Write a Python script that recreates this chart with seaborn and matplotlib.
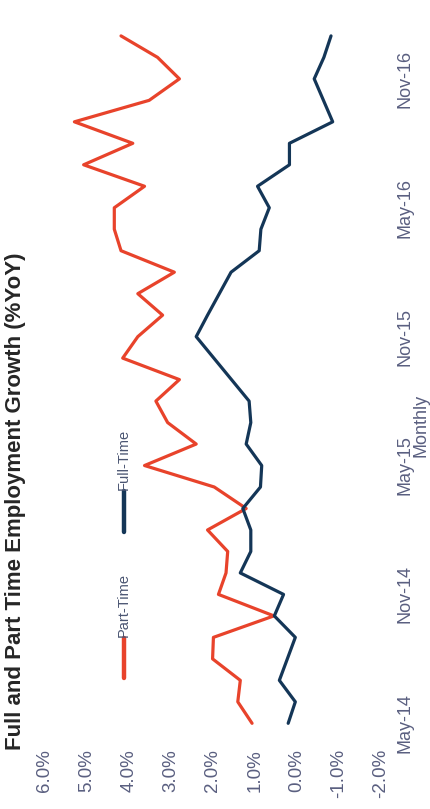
import matplotlib
matplotlib.use("Agg")
import matplotlib.pyplot as plt
from matplotlib.lines import Line2D
import seaborn as sns
import pandas as pd
import numpy as np

# ---- data (monthly, May-14 .. Jan-17) ----
months = pd.date_range("2014-05-01", periods=33, freq="MS").strftime("%b-%y").tolist()
part_time = [1.07, 1.41, 1.35, 2.01, 1.99, 0.55, 1.87, 1.69, 1.65, 2.13, 1.21, 1.97,
             3.63, 2.40, 3.08, 3.36, 2.80, 4.15, 3.79, 3.20, 3.79, 2.92, 4.19, 4.35,
             4.35, 3.63, 5.08, 3.91, 5.30, 3.52, 2.80, 3.32, 4.19]
full_time = [0.21, 0.04, 0.42, 0.23, 0.04, 0.54, 0.32, 1.35, 1.10, 1.10, 1.29, 0.87,
             0.84, 1.21, 1.10, 1.14, 1.56, 1.98, 2.40, 2.13, 1.85, 1.57, 0.90, 0.86,
             0.66, 0.94, 0.18, 0.18, -0.85, -0.63, -0.41, -0.64, -0.81]
series_names = ["Part-Time", "Full-Time"]
date_ticks = ["May-14", "Nov-14", "May-15", "Nov-15", "May-16", "Nov-16"]
value_ticks = [6.0, 5.0, 4.0, 3.0, 2.0, 1.0, 0.0, -1.0, -2.0]
value_tick_labels = ["6.0%", "5.0%", "4.0%", "3.0%", "2.0%", "1.0%", "0.0%", "-1.0%", "-2.0%"]
title = "Full and Part Time Employment Growth (%YoY)"
axis_title = "Monthly"

RED = "#e8432b"
NAVY = "#143657"
TICK_C = "#5a5f80"

df = pd.concat([
    pd.DataFrame({"idx": np.arange(len(months)), "month": months, "value": part_time, "series": series_names[0]}),
    pd.DataFrame({"idx": np.arange(len(months)), "month": months, "value": full_time, "series": series_names[1]}),
])

sns.set_theme(style="white")
plt.rcParams["font.family"] = ["Liberation Sans", "DejaVu Sans"]

W, H = 431, 809
fig = plt.figure(figsize=(W / 100, H / 100), dpi=100)
fig.patch.set_facecolor("white")

def fx(px):
    return px / W

def fy(py):
    return 1 - py / H

ax = fig.add_axes([fx(45), fy(745), fx(381) - fx(45), fy(20) - fy(745)])
sns.lineplot(data=df, x="value", y="idx", hue="series", orient="y", sort=False,
             palette={series_names[0]: RED, series_names[1]: NAVY},
             linewidth=2.3, legend=False, ax=ax)

ax.set_xlim(6, -2)
ax.set_ylim(-1.01, 32.74)
for s in ax.spines.values():
    s.set_visible(False)
ax.grid(False)
ax.set_xlabel("")
ax.set_ylabel("")

# value axis (appears along the bottom, rotated)
ax.set_xticks(value_ticks)
ax.set_xticklabels(value_tick_labels)
ax.tick_params(axis="x", length=0, pad=3, labelsize=13.5, colors=TICK_C, labelrotation=90)

# date axis (appears along the right, rotated)
ax.yaxis.tick_right()
ax.set_yticks([months.index(m) for m in date_ticks])
ax.set_yticklabels(date_ticks)
ax.tick_params(axis="y", length=0, pad=11, labelsize=13, colors=TICK_C, labelrotation=90)
for lbl in ax.get_yticklabels():
    lbl.set_va("center")
    lbl.set_ha("left")

fig.text(fx(421), fy(425), axis_title, rotation=90, ha="center", va="center",
         fontsize=13, color=TICK_C)

fig.text(fx(16), fy(750), title, rotation=90, ha="center", va="bottom",
         fontsize=16, fontweight="bold", color="#262626")

# legend (rotated, drawn manually)
for name, col, y0, y1 in [(series_names[0], RED, 678, 638), (series_names[1], NAVY, 532, 491)]:
    fig.add_artist(Line2D([fx(124), fx(124)], [fy(y0), fy(y1)], color=col, lw=3.2,
                          solid_capstyle="round", transform=fig.transFigure))
    fig.text(fx(124), fy(y1 - 1), name, rotation=90, ha="center", va="bottom",
             fontsize=10.5, color="#4a5572")

fig.savefig("out.png", dpi=100, facecolor="white")
